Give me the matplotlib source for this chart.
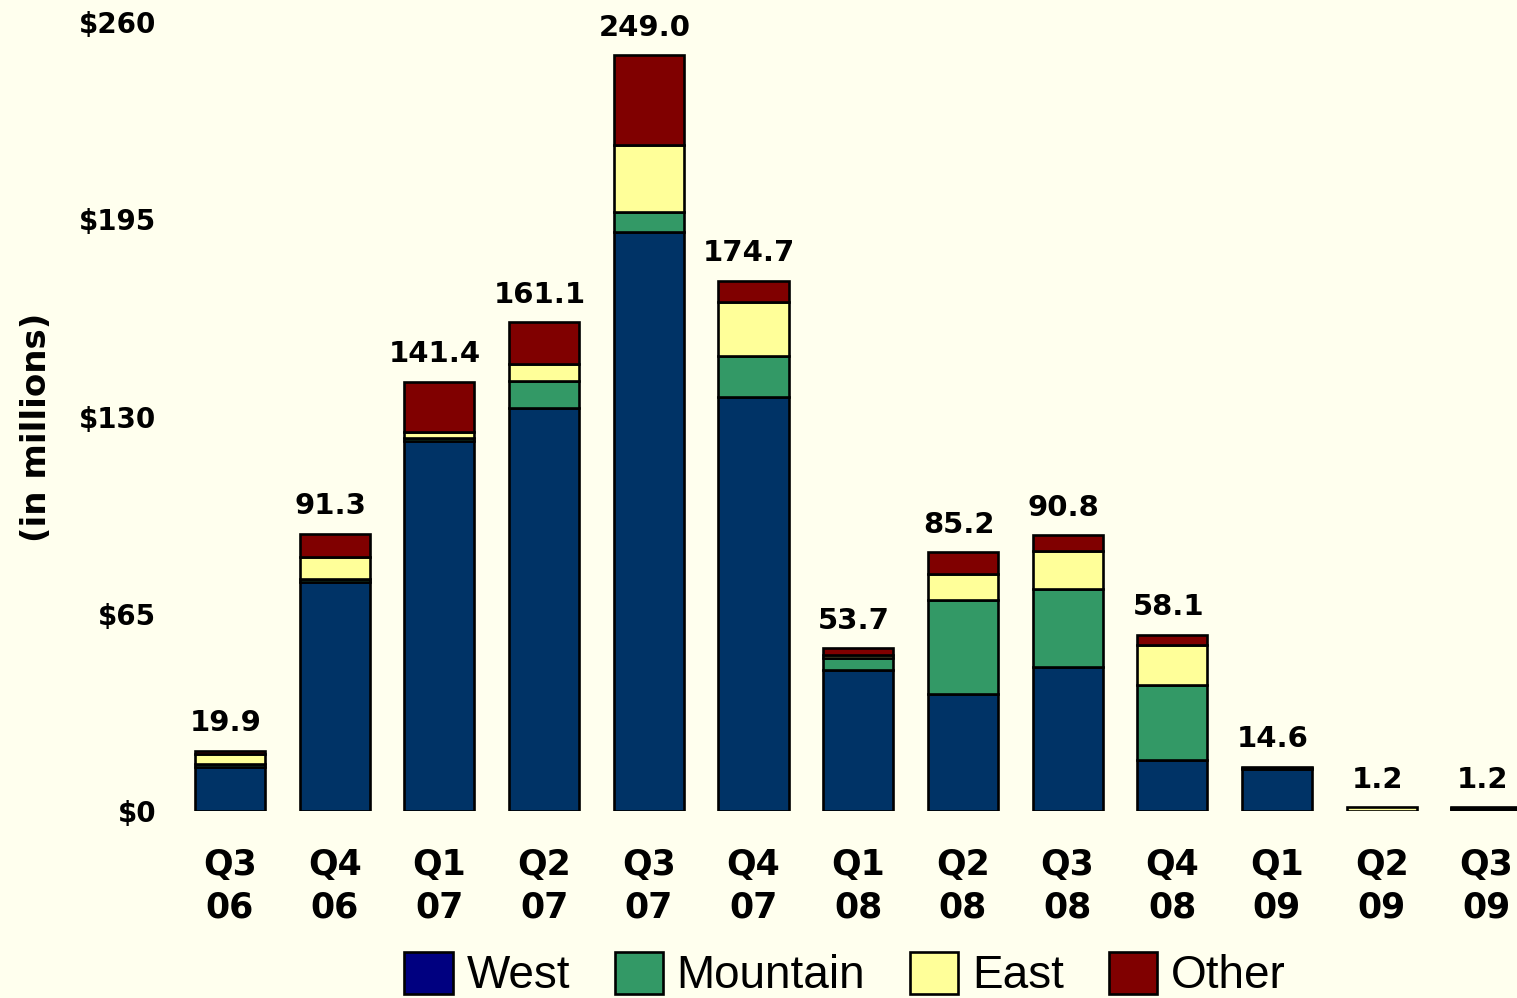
#!/usr/bin/env python3
"""Quarterly stacked bars by region, in millions of dollars."""
import matplotlib.pyplot as plt
from matplotlib.patches import Patch

# Quarter labels and regional values ($ millions)
quarters = ['Q3\n06', 'Q4\n06', 'Q1\n07', 'Q2\n07', 'Q3\n07', 'Q4\n07', 'Q1\n08',
            'Q2\n08', 'Q3\n08', 'Q4\n08', 'Q1\n09', 'Q2\n09', 'Q3\n09']
west = [14.6, 75.3, 122.0, 132.8, 190.7, 136.4, 46.6, 38.7, 47.5, 16.8, 14.0, 0.0, 0.6]
mountain = [0.9, 1.3, 1.0, 8.9, 6.8, 13.5, 3.9, 30.8, 25.7, 24.7, 0.2, 0.0, 0.3]
east = [3.3, 7.2, 1.9, 5.6, 22.1, 17.8, 0.9, 8.5, 12.5, 13.1, 0.1, 1.2, 0.0]
other = [1.1, 7.5, 16.5, 13.8, 29.4, 7.0, 2.3, 7.2, 5.1, 3.5, 0.3, 0.0, 0.3]

y_ticks = [0, 65, 130, 195, 260]
y_tick_labels = ['$0', '$65', '$130', '$195', '$260']

series = [('West', west, '#003366'),
          ('Mountain', mountain, '#339966'),
          ('East', east, '#FFFF99'),
          ('Other', other, '#800000')]

bg = '#FFFFEE'
W, H = 1517, 998
fig = plt.figure(figsize=(W / 100, H / 100), dpi=100, facecolor=bg)
ax_left, ax_bottom = 170, 811
ax = fig.add_axes([ax_left / W, (H - ax_bottom) / H, 1 - ax_left / W, (ax_bottom - 22) / H])
ax.set_facecolor(bg)

x = list(range(len(quarters)))
step = 104.7
ax.set_xlim(-(230 - ax_left) / step, (W - 230) / step)
ax.set_ylim(0, 260)

bottoms = [0.0] * len(quarters)
for name, vals, color in series:
    # empty segments get no outline
    lw = [1.9 if v > 0 else 0 for v in vals]
    ax.bar(x, vals, width=0.67, bottom=bottoms, color=color,
           edgecolor='black', linewidth=lw, zorder=2)
    bottoms = [b + v for b, v in zip(bottoms, vals)]

# Totals above each stack
for xi, total in zip(x, bottoms):
    ax.annotate(f'{total:.1f}', (xi, total), xytext=(-3, 14),
                textcoords='offset points', ha='center', va='baseline',
                fontsize=21, fontweight='bold')

ax.set_yticks(y_ticks)
ax.set_yticklabels(y_tick_labels, fontsize=20, fontweight='bold')
ax.set_xticks(x)
ax.set_xticklabels(quarters, fontsize=25, fontweight='bold', linespacing=1.3)
ax.tick_params(axis='y', length=0, pad=10)
ax.tick_params(axis='x', length=0, pad=27)
for s in ax.spines.values():
    s.set_visible(False)

fig.text(37 / W, 1 - 427 / H, '(in millions)', rotation=90, ha='center',
         va='center', fontsize=24.5, fontweight='bold')

handles = [Patch(facecolor=c, edgecolor='black', linewidth=1.9, label=n)
           for n, _, c in series]
handles[0].set_facecolor('#000080')
fig.legend(handles=handles, loc='center', bbox_to_anchor=(845 / W, 1 - 975 / H),
           ncol=4, frameon=False, borderpad=0, handlelength=1.05, handleheight=1.05,
           handletextpad=0.3, columnspacing=0.98,
           prop={'family': 'Liberation Sans', 'size': 33})

fig.savefig('out.png', dpi=100, facecolor=bg)
